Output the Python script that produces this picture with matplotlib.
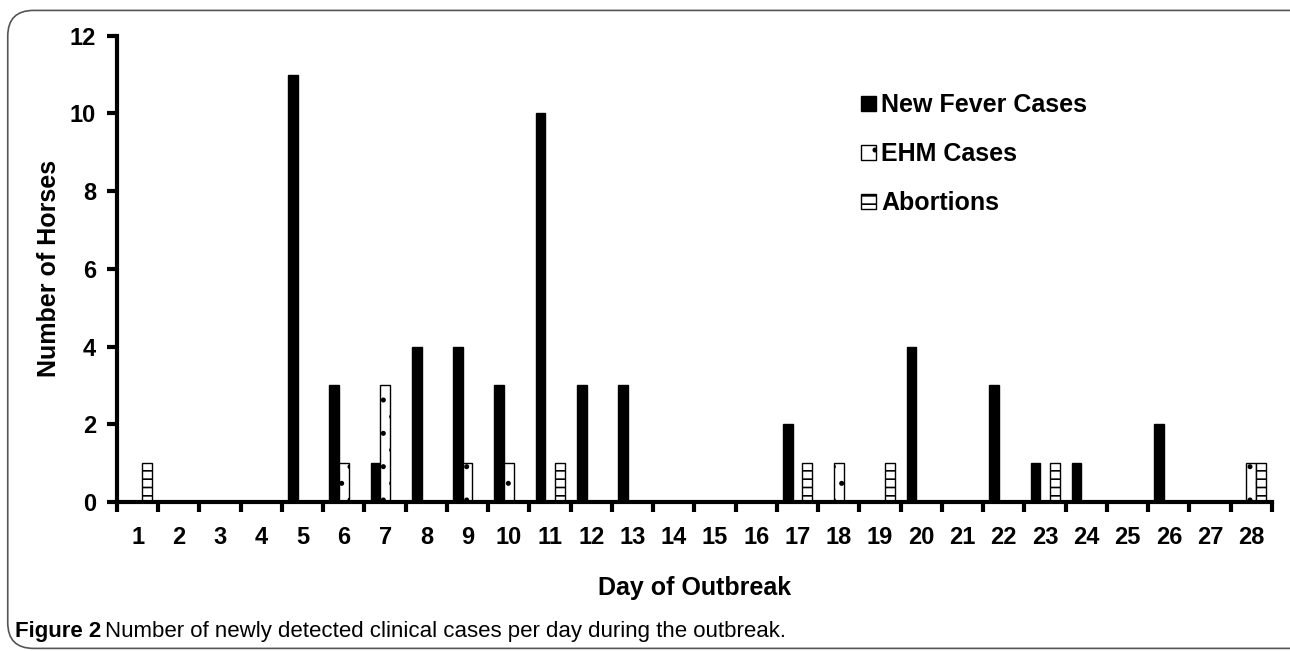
import numpy as np
import matplotlib
matplotlib.use("Agg")
import matplotlib.pyplot as plt
from matplotlib.patches import FancyBboxPatch

days = list(range(1, 29))
fever = [0, 0, 0, 0, 11, 3, 1, 4, 4, 3, 10, 3, 3, 0, 0, 0, 2, 0, 0, 4, 0, 3, 1, 1, 0, 2, 0, 0]
ehm = [0, 0, 0, 0, 0, 1, 3, 0, 1, 1, 0, 0, 0, 0, 0, 0, 0, 1, 0, 0, 0, 0, 0, 0, 0, 0, 0, 1]
abortions = [1, 0, 0, 0, 0, 0, 0, 0, 0, 0, 1, 0, 0, 0, 0, 0, 1, 0, 1, 0, 0, 0, 1, 0, 0, 0, 0, 1]
series_names = ["New Fever Cases", "EHM Cases", "Abortions"]

plt.rcParams['font.family'] = ['Liberation Sans', 'DejaVu Sans']
plt.rcParams['hatch.linewidth'] = 1.2

fig = plt.figure(figsize=(12.9, 6.51), dpi=100)
ax = fig.add_axes([0.0907, 0.229, 0.8953, 0.716])

x = np.arange(len(days))
w = 0.235
ax.bar(x - w, fever, w, color='black', edgecolor='black', lw=1, label=series_names[0])
ax.bar(x, ehm, w, color='white', edgecolor='black', lw=1, hatch='.', label=series_names[1])
ax.bar(x + w, abortions, w, color='white', edgecolor='black', lw=1, hatch='--', label=series_names[2])

ax.set_xlim(-0.5, len(days) - 0.5)
ax.set_ylim(0, 12)
ax.set_yticks(range(0, 13, 2))
ax.set_xticks(x)
ax.set_xticklabels([str(d) for d in days])
ax.set_xticks(np.arange(len(days) + 1) - 0.5, minor=True)
ax.tick_params(axis='x', which='major', length=0, pad=17)
ax.tick_params(axis='x', which='minor', length=7, width=3, direction='out')
ax.tick_params(axis='y', length=7, width=3, direction='out', pad=8)
for lab in ax.get_xticklabels() + ax.get_yticklabels():
    lab.set_fontsize(17)
    lab.set_fontweight('bold')

for s in ['top', 'right']:
    ax.spines[s].set_visible(False)
for s in ['left', 'bottom']:
    ax.spines[s].set_linewidth(3)

ax.set_ylabel("Number of Horses", fontsize=18, fontweight='bold', labelpad=6)
ax.set_xlabel("Day of Outbreak", fontsize=18, fontweight='bold', labelpad=20)

ax.legend(loc='upper left', bbox_to_anchor=(0.625, 0.925), frameon=False,
          prop={'weight': 'bold', 'size': 18},
          handlelength=0.6, handleheight=0.6, handletextpad=0.2, labelspacing=1.0)

fig.text(0.012, 0.014, "Figure 2", fontsize=16, fontweight='bold', ha='left', va='bottom')
fig.text(0.0815, 0.014, "Number of newly detected clinical cases per day during the outbreak.",
         fontsize=16, ha='left', va='bottom')

frame = FancyBboxPatch((0.006, 0.004), 1.2, 0.98, boxstyle="round,pad=0,rounding_size=0.02",
                       transform=fig.transFigure, fill=False, edgecolor='#555555', lw=1.2,
                       mutation_aspect=1.98)
fig.patches.append(frame)

fig.savefig("out.png", dpi=100)
